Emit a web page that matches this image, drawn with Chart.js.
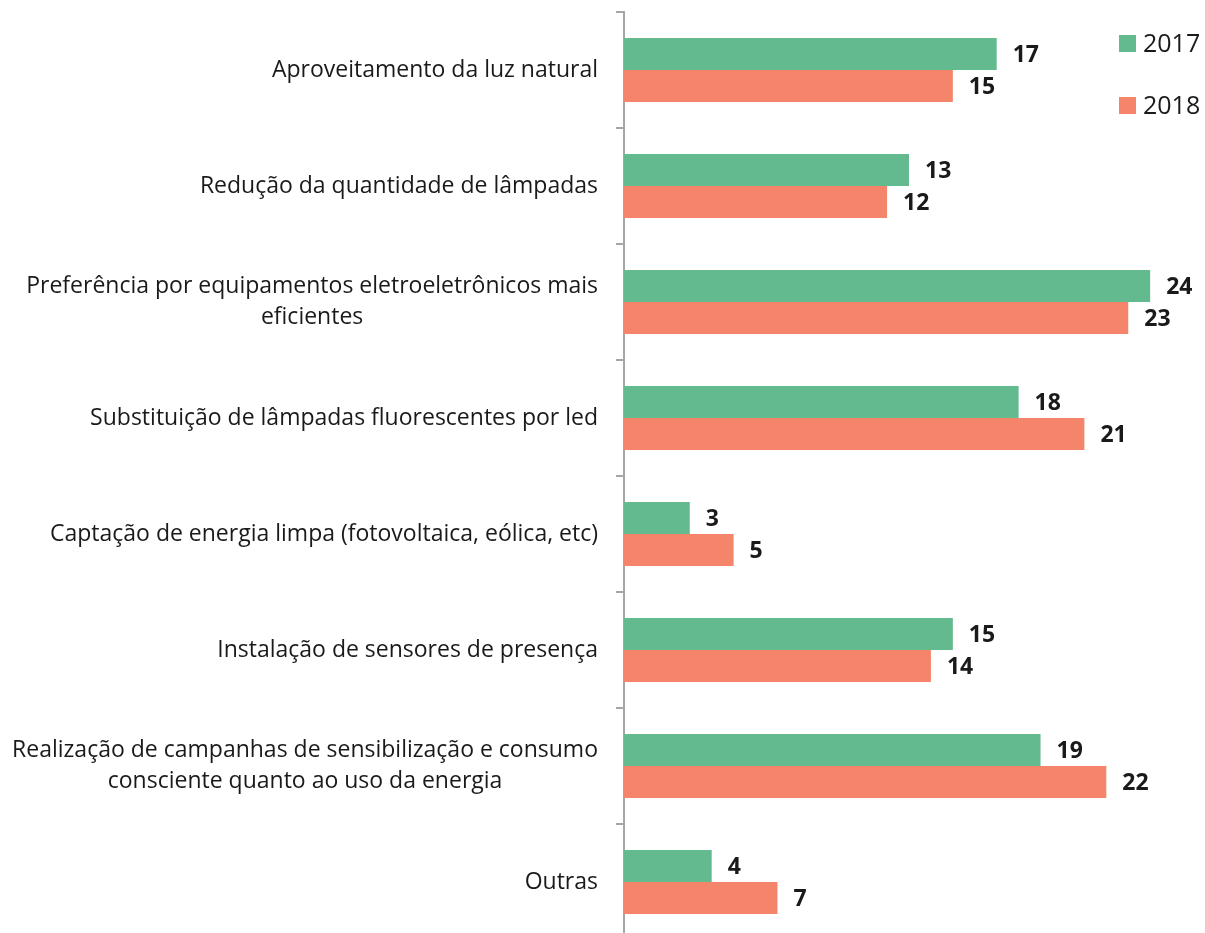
<!DOCTYPE html>
<html>
<head>
<meta charset="utf-8">
<script src="https://cdn.jsdelivr.net/npm/chart.js@4.4.0/dist/chart.umd.min.js"></script>
<style>
  html, body { margin: 0; padding: 0; overflow: hidden; background: #fff; }
  #wrap { width: 1205px; height: 941px; }
</style>
</head>
<body>
<div id="wrap"><canvas id="ctx"></canvas></div>
<script>
  // categories and values
  const categories = [
    'Aproveitamento da luz natural',
    'Redução da quantidade de lâmpadas',
    ['Preferência por equipamentos eletroeletrônicos mais', 'eficientes'],
    'Substituição de lâmpadas fluorescentes por led',
    'Captação de energia limpa (fotovoltaica, eólica, etc)',
    'Instalação de sensores de presença',
    ['Realização de campanhas de sensibilização e consumo', 'consciente quanto ao uso da energia'],
    'Outras'
  ];
  const values2017 = [17, 13, 24, 18, 3, 15, 19, 4];
  const values2018 = [15, 12, 23, 21, 5, 14, 22, 7];
  const seriesNames = ['2017', '2018'];
  const colors = ['#63BA8E', '#F4856A'];

  const FONT = '"Open Sans", "Noto Sans", sans-serif';

  // category labels: block right aligned, lines centred inside the block
  const catLabels = {
    id: 'catLabels',
    afterDraw(chart) {
      const c = chart.ctx;
      const y = chart.scales.y;
      const right = y.right - 26;
      const lh = 31;
      c.save();
      c.font = '23px ' + FONT;
      c.fillStyle = '#1a1a1a';
      c.textAlign = 'center';
      c.textBaseline = 'middle';
      chart.data.labels.forEach((lab, i) => {
        const lines = Array.isArray(lab) ? lab : [lab];
        const w = Math.max(...lines.map(l => c.measureText(l).width));
        const cx = right - w / 2;
        const cy = y.getPixelForTick(i);
        lines.forEach((l, k) => {
          c.fillText(l, cx, cy + (k - (lines.length - 1) / 2) * lh);
        });
      });
      c.restore();
    }
  };

  // value labels at the end of every bar
  const barLabels = {
    id: 'barLabels',
    afterDatasetsDraw(chart) {
      const c = chart.ctx;
      c.save();
      c.font = 'bold 23px ' + FONT;
      c.fillStyle = '#1a1a1a';
      c.textAlign = 'left';
      c.textBaseline = 'middle';
      chart.data.datasets.forEach((ds, i) => {
        chart.getDatasetMeta(i).data.forEach((bar, j) => {
          c.fillText(ds.data[j], bar.x + 16, bar.y + 1);
        });
      });
      c.restore();
    }
  };

  // legend in the top right corner
  const cornerLegend = {
    id: 'cornerLegend',
    afterDraw(chart) {
      const c = chart.ctx;
      c.save();
      c.font = '25px ' + FONT;
      c.textBaseline = 'middle';
      chart.data.datasets.forEach((ds, i) => {
        const y = 44 + i * 62;
        c.fillStyle = ds.backgroundColor;
        c.fillRect(1119, y - 9, 17, 17);
        c.fillStyle = '#1a1a1a';
        c.fillText(ds.label, 1143, y + 1);
      });
      c.restore();
    }
  };

  const myChart = new Chart(document.getElementById('ctx'), {
    type: 'bar',
    data: {
      labels: categories,
      datasets: [
        { label: seriesNames[0], data: values2017, backgroundColor: colors[0] },
        { label: seriesNames[1], data: values2018, backgroundColor: colors[1] }
      ]
    },
    options: {
      indexAxis: 'y',
      responsive: true,
      maintainAspectRatio: false,
      animation: false,
      categoryPercentage: 0.552,
      barPercentage: 1,
      layout: { padding: { top: 12, right: 11, bottom: 1, left: 0 } },
      plugins: {
        legend: { display: false },
        tooltip: { enabled: false }
      },
      scales: {
        x: {
          display: false,
          min: 0,
          max: 26
        },
        y: {
          afterFit(scale) {
            scale.width = 624;
            scale.paddingTop = 0;
            scale.paddingBottom = 0;
          },
          border: { display: true, color: '#A6A6A6', width: 2 },
          grid: {
            offset: true,
            drawOnChartArea: false,
            drawTicks: true,
            tickLength: 8,
            color: '#A6A6A6',
            lineWidth: 2
          },
          ticks: {
            // drawn by catLabels so the wrapped lines can be centred
            color: 'rgba(0,0,0,0)',
            padding: 18,
            font: { family: FONT, size: 23, lineHeight: 1.35 }
          }
        }
      }
    },
    plugins: [barLabels, cornerLegend, catLabels]
  });
</script>
</body>
</html>
